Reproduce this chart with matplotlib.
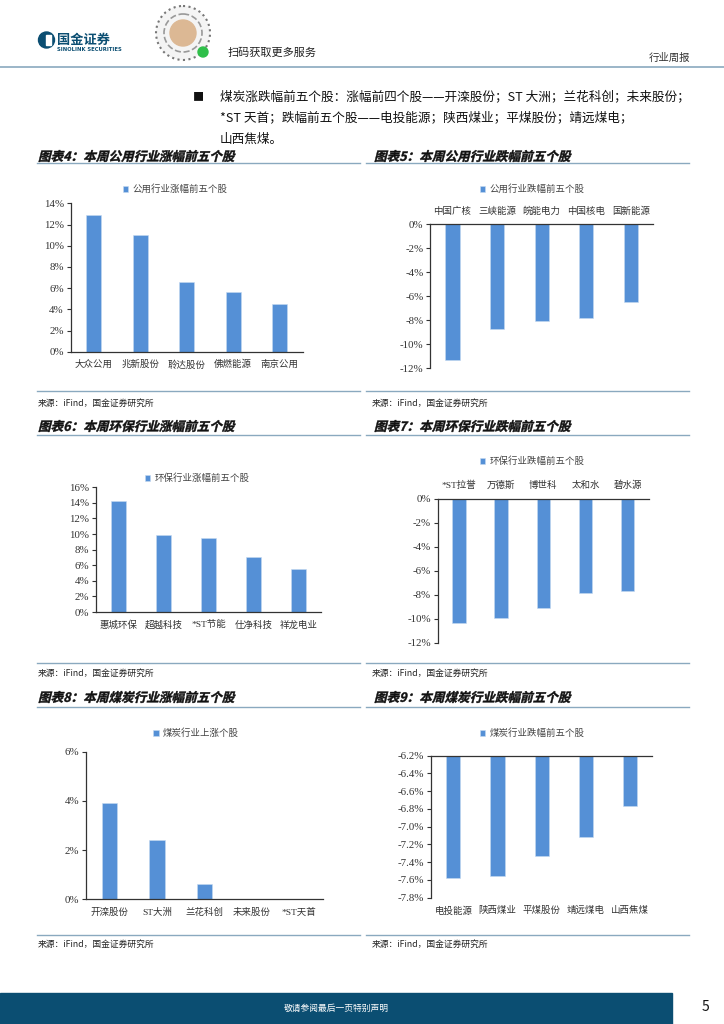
import numpy as np
import matplotlib
matplotlib.use('Agg')
import matplotlib.pyplot as plt
from matplotlib.patches import Rectangle, Circle, PathPatch
from matplotlib.textpath import TextPath
from matplotlib.font_manager import FontProperties
from matplotlib.transforms import Affine2D

plt.rcParams['font.family'] = ['Noto Sans CJK SC', 'DejaVu Sans']

# ---- 数据 ----
util_up_names = ['大众公用', '兆新股份', '聆达股份', '佛燃能源', '南京公用']
util_up_vals = [12.9, 11.0, 6.6, 5.6, 4.5]

util_down_names = ['中国广核', '三峡能源', '皖能电力', '中国核电', '国新能源']
util_down_vals = [-11.3, -8.75, -8.1, -7.8, -6.45]

env_up_names = ['惠城环保', '超越科技', '*ST节能', '仕净科技', '祥龙电业']
env_up_vals = [14.3, 9.9, 9.55, 7.0, 5.5]

env_down_names = ['*ST拉誉', '万德斯', '博世科', '太和水', '碧水源']
env_down_vals = [-10.35, -9.95, -9.1, -7.85, -7.7]

coal_up_names = ['开滦股份', 'ST大洲', '兰花科创', '未来股份', '*ST天首']
coal_up_vals = [3.92, 2.41, 0.61, 0.0, 0.0]

coal_down_names = ['电投能源', '陕西煤业', '平煤股份', '靖远煤电', '山西焦煤']
coal_down_vals = [-7.58, -7.55, -7.33, -7.12, -6.77]

W, H = 724, 1024
BLUE = '#5590d6'
LINE = '#8aa9bf'
NAVY = '#0b4e72'
SERIF = ['Liberation Serif', 'Noto Sans CJK SC']

fig = plt.figure(figsize=(W / 100, H / 100), dpi=100)
bg = fig.add_axes([0, 0, 1, 1], zorder=0)
bg.set_xlim(0, W)
bg.set_ylim(H, 0)
bg.axis('off')


def add_px(l, t, r, b):
    return fig.add_axes([l / W, 1 - b / H, (r - l) / W, (b - t) / H], zorder=2)


def slanted(x, base_y, s, size=12.6):
    # 斜体粗标题，用文字路径加倾斜变换
    fp = FontProperties(family='Noto Sans CJK SC', weight='bold')
    tp = TextPath((0, 0), s, size=size, prop=fp)
    tr = Affine2D().skew_deg(14, 0).scale(1, -1).translate(x, base_y)
    bg.add_patch(PathPatch(tr.transform_path(tp), facecolor='#111111', edgecolor='#111111', lw=0.3))


# ---- 页眉 ----
bg.add_patch(Circle((46.5, 40), 8, color=NAVY))
bg.add_patch(Rectangle((45.5, 35), 5, 10, color='white'))
bg.text(57, 40, '国金证券', fontsize=9.5, fontweight='bold', color=NAVY, va='center')
bg.text(57, 49.5, 'SINOLINK SECURITIES', fontsize=3.8, fontweight='bold', color=NAVY,
        va='center', family='DejaVu Sans')
bg.add_patch(Circle((183, 33), 27, facecolor='#f4f4f4', edgecolor='#777777', lw=1.5, ls=':'))
bg.add_patch(Circle((183, 33), 19, facecolor='none', edgecolor='#999999', lw=1.2, ls='--'))
bg.add_patch(Circle((183, 33), 13, color='#dcb894'))
bg.add_patch(Circle((203, 52), 5, color='#2fbf4a'))
bg.text(228, 53, '扫码获取更多服务', fontsize=8, color='#222222', va='center')
bg.text(690, 58, '行业周报', fontsize=7.5, color='#333333', va='center', ha='right')
bg.plot([0, W], [67, 67], color=LINE, lw=1.2)

# ---- 正文要点 ----
bg.text(198, 97, '■', fontsize=8, va='center', ha='center', color='#111111')
body_lines = ['煤炭涨跌幅前五个股：涨幅前四个股——开滦股份；ST 大洲；兰花科创；未来股份；',
              '*ST 天首；跌幅前五个股——电投能源；陕西煤业；平煤股份；靖远煤电；',
              '山西焦煤。']
for i, line in enumerate(body_lines):
    bg.text(220, 97 + 21 * i, line, fontsize=9.1, va='center', color='#111111')


def section(title_l, title_r, ty, line_y, src_line_y, src_y):
    slanted(38, ty + 4.8, title_l)
    slanted(374, ty + 4.8, title_r)
    bg.plot([37, 360], [line_y, line_y], color=LINE, lw=1)
    bg.plot([366, 689], [line_y, line_y], color=LINE, lw=1)
    bg.plot([37, 360], [src_line_y, src_line_y], color=LINE, lw=1)
    bg.plot([366, 689], [src_line_y, src_line_y], color=LINE, lw=1)
    bg.text(38, src_y, '来源：iFind，国金证券研究所', fontsize=6.3, va='center', color='#222222')
    bg.text(372, src_y, '来源：iFind，国金证券研究所', fontsize=6.3, va='center', color='#222222')


section('图表4：本周公用行业涨幅前五个股', '图表5：本周公用行业跌幅前五个股', 156, 163, 391, 403)
section('图表6：本周环保行业涨幅前五个股', '图表7：本周环保行业跌幅前五个股', 426, 435, 663, 673)
section('图表8：本周煤炭行业涨幅前五个股', '图表9：本周煤炭行业跌幅前五个股', 697, 707, 935, 944)


def bar_chart(rect, names, vals, ylim, yticks, fmt, legend_text, legend_xy, base=0.0,
              top_labels=False, top_line=False):
    ax = add_px(*rect)
    x = np.arange(len(names))
    v = np.array(vals)
    ax.bar(x, v - base, bottom=base, width=0.32, color=BLUE, edgecolor='#c5d9f1', lw=0.4,
           label=legend_text)
    ax.set_xlim(-0.5, len(names) - 0.5)
    ax.set_ylim(*ylim)
    ax.set_yticks(yticks)
    ax.set_yticklabels([fmt(t) for t in yticks], family=SERIF, fontsize=7.8, color='#333333')
    ax.set_xticks(x)
    ax.set_xticklabels(names, fontsize=6.8, color='#333333', family=SERIF)
    ax.tick_params(axis='x', length=0, pad=6)
    ax.tick_params(axis='y', length=3, width=0.8, direction='out', pad=2, color='#333333')
    ax.spines['right'].set_visible(False)
    if top_labels:
        ax.xaxis.tick_top()
    ax.spines['bottom'].set_visible(not top_line)
    ax.spines['top'].set_visible(top_line)
    for s in ['left', 'top', 'bottom']:
        ax.spines[s].set_color('#333333')
        ax.spines[s].set_linewidth(0.9)
    ax.patch.set_alpha(0)
    ax.legend(loc='center', bbox_to_anchor=(legend_xy[0] / W, 1 - legend_xy[1] / H),
              bbox_transform=fig.transFigure, frameon=False, fontsize=6.8,
              handlelength=0.6, handleheight=0.6, handletextpad=0.4,
              labelcolor='#444444')
    return ax


pct0 = lambda t: f'{round(t)}%'
pct1 = lambda t: f'{t:.1f}%'

bar_chart((70.7, 203.3, 303, 351.7), util_up_names, util_up_vals, (0, 14),
          [0, 2, 4, 6, 8, 10, 12, 14], pct0, '公用行业涨幅前五个股', (175, 189))
bar_chart((430.3, 224.3, 653, 368.3), util_down_names, util_down_vals, (-12, 0),
          [-12, -10, -8, -6, -4, -2, 0], pct0, '公用行业跌幅前五个股', (532, 189),
          top_labels=True, top_line=True)
bar_chart((96, 487.3, 321, 612), env_up_names, env_up_vals, (0, 16),
          [0, 2, 4, 6, 8, 10, 12, 14, 16], pct0, '环保行业涨幅前五个股', (197, 478))
bar_chart((438, 498.7, 648.7, 642.7), env_down_names, env_down_vals, (-12, 0),
          [-12, -10, -8, -6, -4, -2, 0], pct0, '环保行业跌幅前五个股', (532, 461),
          top_labels=True, top_line=True)
bar_chart((86, 751.7, 322.7, 899.3), coal_up_names, coal_up_vals, (0, 6),
          [0, 2, 4, 6], pct0, '煤炭行业上涨个股', (196, 733))
bar_chart((431.3, 755.7, 652, 897.7), coal_down_names, coal_down_vals, (-7.8, -6.2),
          list(np.round(np.arange(-7.8, -6.19, 0.2), 1)), pct1, '煤炭行业跌幅前五个股',
          (532, 733), base=-6.2, top_labels=False, top_line=True)

# ---- 页脚 ----
bg.add_patch(Rectangle((0, 993), 672, 31, color=NAVY))
bg.text(336, 1008, '敬请参阅最后一页特别声明', fontsize=6.3, color='white', ha='center', va='center')
bg.text(705, 1007, '5', fontsize=10, color='#111111', ha='center', va='center')

fig.savefig('out.png', dpi=100)
